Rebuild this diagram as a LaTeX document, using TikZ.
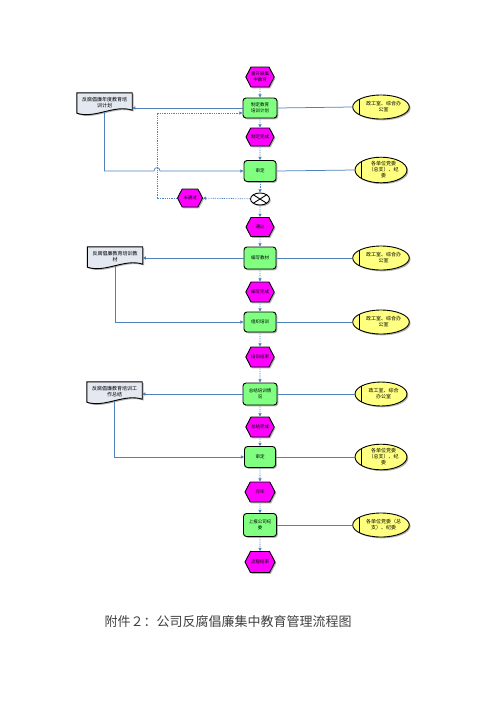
\documentclass[tikz,border=0pt]{standalone}
\usepackage{fontspec}
\setmainfont{Noto Sans CJK SC}
\usetikzlibrary{shapes.symbols,shapes.geometric,arrows.meta,shadows,backgrounds}
\definecolor{lineblue}{HTML}{4F81BD}
\definecolor{evmag}{HTML}{FF00FF}
\definecolor{fngreen}{HTML}{80FF80}
\definecolor{orgyel}{HTML}{FFFF80}
\definecolor{docgray}{HTML}{E4E8F0}
\newcommand{\orgtxt}[1]{\hspace*{5pt}\begin{tabular}{@{}c@{}}#1\end{tabular}}
\tikzset{
  shade/.style={drop shadow={shadow xshift=1.3pt,shadow yshift=-1.3pt,opacity=0.3,fill=black}},
  smallfont/.style={font=\fontsize{4.5}{5.5}\selectfont},
  midfont/.style={font=\fontsize{5}{6}\selectfont},
  evnode/.style={signal, signal to=east and west, signal pointer angle=125,
    draw=black, line width=0.9pt, fill=evmag, inner sep=0pt,
    minimum width=28pt, minimum height=20pt, align=center, smallfont, shade},
  fnnode/.style={rectangle, rounded corners=3pt, draw=black, line width=0.9pt,
    fill=fngreen, inner sep=0pt, minimum width=33pt, minimum height=21pt,
    align=center, smallfont, shade},
  orgnode/.style={ellipse, draw=black, line width=0.9pt, fill=orgyel, inner sep=0pt,
    minimum width=52pt, minimum height=24pt, midfont, shade,
    path picture={\draw[line width=1pt] ([xshift=6.5pt]path picture bounding box.north west) -- ([xshift=6.5pt]path picture bounding box.south west);}},
  xornode/.style={ellipse, draw=black, line width=0.9pt, fill=white, inner sep=0pt,
    minimum width=19pt, minimum height=12pt, shade,
    path picture={\draw[line width=0.9pt] (path picture bounding box.north west) -- (path picture bounding box.south east) (path picture bounding box.south west) -- (path picture bounding box.north east);}},
  docnode/.style={rectangle, draw=none, inner sep=1pt, minimum width=55pt, minimum height=19pt,
    align=center, midfont, anchor=center},
  docshape/.style={draw=black, line width=0.9pt, fill=docgray, shade},
  flowarr/.style={lineblue, dash pattern=on 0.9pt off 0.9pt, line width=0.75pt, -{Triangle[length=3.2pt,width=3.2pt]}},
  solidarr/.style={lineblue, line width=0.75pt, -{Triangle[length=3.2pt,width=3.2pt]}},
  orgline/.style={lineblue, line width=0.75pt},
}
\begin{document}
\begin{tikzpicture}[x=1pt,y=-1pt]
\useasboundingbox (0,0) rectangle (500,707);

% main column
\node[evnode] (e1) at (260,77) {需开展集\\中教育};
\node[fnnode, minimum width=34pt, minimum height=20pt] (f1) at (260,108) {制定教育\\培训计划};
\node[evnode, minimum height=18pt] (e2) at (260,137) {制定完成};
\node[fnnode, minimum width=32pt] (f2) at (260,171) {审定};
\node[xornode] (x1) at (260,199) {};
\node[evnode, minimum width=25pt, minimum height=18pt] (no) at (190,198) {未通过};
\node[evnode, minimum height=19pt] (yes) at (260,227) {通过};
\node[fnnode, minimum width=32pt, minimum height=22pt] (f3) at (260,258) {编写教材};
\node[evnode] (e3) at (260,292) {编写完成};
\node[fnnode, minimum width=32pt, minimum height=20pt] (f4) at (260,322) {组织培训};
\node[evnode] (e4) at (260,357) {培训结束};
\node[fnnode, minimum width=34pt, minimum height=22pt] (f5) at (260,394) {总结培训情\\况};
\node[evnode] (e5) at (260,427) {总结完成};
\node[fnnode, minimum width=31pt] (f6) at (260,457) {审定};
\node[evnode, minimum width=30pt] (e6) at (260,492) {完毕};
\node[fnnode, minimum width=33pt, minimum height=23pt] (f7) at (260,525) {上报公司纪\\委};
\node[evnode, minimum width=30pt, minimum height=21pt] (e7) at (260,562) {流程结束};

% organisation units
\node[orgnode] (o1) at (381,107) {\orgtxt{政工室、综合办\\公室}};
\node[orgnode] (o2) at (381,170) {\orgtxt{各单位党委\\（总支）、纪\\委}};
\node[orgnode] (o3) at (381,258) {\orgtxt{政工室、综合办\\公室}};
\node[orgnode] (o4) at (381,322) {\orgtxt{政工室、综合办\\公室}};
\node[orgnode] (o5) at (381,394) {\orgtxt{政工室、综合\\办公室}};
\node[orgnode] (o6) at (381,457) {\orgtxt{各单位党委\\（总支）、纪\\委}};
\node[orgnode] (o7) at (381,525) {\orgtxt{各单位党委（总\\支）、纪委}};

% documents
\node[docnode] (d1) at (104.5,102.5) {};
\node[docnode] (d2) at (115,256.5) {};
\node[docnode] (d3) at (114.5,391.5) {};
\begin{scope}[on background layer]
\foreach \d in {d1,d2,d3}{
  \draw[docshape] (\d.north west) -- (\d.north east) -- ([yshift=2pt]\d.south east)
    .. controls ([xshift=-18pt,yshift=8pt]\d.south east) and ([xshift=18pt,yshift=-7pt]\d.south west) .. ([yshift=-1pt]\d.south west) -- cycle;
}
\end{scope}
\node[docnode, draw=none, fill=none] (t1) at (d1) {反腐倡廉年度教育培\\训计划};
\node[docnode, draw=none, fill=none] (t2) at (d2) {反腐倡廉教育培训教\\材};
\node[docnode, draw=none, fill=none] (t3) at (d3) {反腐倡廉教育培训工\\作总结};

% flow arrows
\draw[flowarr] (e1) -- (f1);
\draw[flowarr] (f1) -- (e2);
\draw[flowarr] (e2) -- (f2);
\draw[flowarr] (f2) -- (x1);
\draw[flowarr] (x1) -- (yes);
\draw[flowarr] (x1) -- (no);
\draw[flowarr] (yes) -- (f3);
\draw[flowarr] (f3) -- (e3);
\draw[flowarr] (e3) -- (f4);
\draw[flowarr] (f4) -- (e4);
\draw[flowarr] (e4) -- (f5);
\draw[flowarr] (f5) -- (e5);
\draw[flowarr] (e5) -- (f6);
\draw[flowarr] (f6) -- (e6);
\draw[flowarr] (e6) -- (f7);
\draw[flowarr] (f7) -- (e7);
\coordinate (fb1) at (157,198);
\coordinate (fb2) at (157,113);
\draw[flowarr] (no.west) -- (fb1) -- (fb2) -- (f1.west |- fb2);

% organisation lines
\draw[orgline] (f1.east) -- (o1.west);
\draw[orgline] (f2.east) -- (o2.west);
\draw[orgline] (f3.east) -- (o3.west);
\draw[orgline] (f4.east) -- (o4.west);
\draw[orgline] (f5.east) -- (o5.west);
\draw[orgline] (f6.east) -- (o6.west);
\draw[orgline] (f7.east) -- (o7.west);

% document connectors
\draw[solidarr] (f1.west) -- (f1.west -| d1.east);
\coordinate (h1) at (154,171);
\coordinate (h2) at (160,171);
\draw[solidarr] (d1.south) |- (h1) .. controls (154,166.5) and (160,166.5) .. (h2) -- (f2.west);
\draw[solidarr] (f3.west) -- (f3.west -| d2.east);
\draw[solidarr] (d2.south) |- (f4.west);
\draw[solidarr] (f5.west) -- (f5.west -| d3.east);
\draw[solidarr] (d3.south) |- (f6.west);

% caption
\node[font=\fontsize{13}{15}\selectfont, text=black!75] (cap) at (228,622) {附件２：公司反腐倡廉集中教育管理流程图};
\end{tikzpicture}
\end{document}
